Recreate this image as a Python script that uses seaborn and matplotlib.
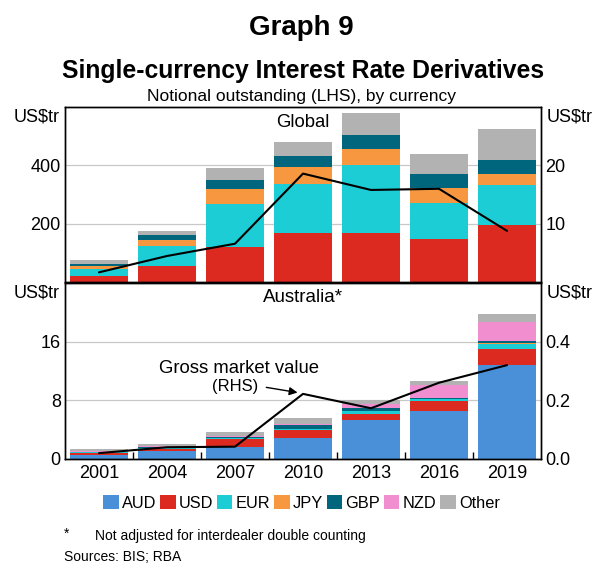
import matplotlib
matplotlib.use("Agg")
import matplotlib.pyplot as plt
import seaborn as sns
import numpy as np
import pandas as pd
from matplotlib.patches import Patch
from matplotlib.ticker import FixedLocator

years = ['2001', '2004', '2007', '2010', '2013', '2016', '2019']
currencies = ['AUD', 'USD', 'EUR', 'JPY', 'GBP', 'NZD', 'Other']
colors = {'AUD': '#4a90d9', 'USD': '#dc2a20', 'EUR': '#1ccdd6', 'JPY': '#f79840',
          'GBP': '#00667e', 'NZD': '#f08ed0', 'Other': '#b2b2b2'}

# Global notional outstanding, US$tr (LHS)
glob_aud = [0, 0, 0, 0, 0, 0, 0]
glob_usd = [23, 57, 121, 167, 167, 148, 197]
glob_eur = [23, 68, 147, 171, 234, 125, 135]
glob_jpy = [11, 21, 50, 55, 56, 51, 39]
glob_gbp = [6, 15, 31, 39, 48, 46, 47]
glob_nzd = [0, 0, 0, 0, 0, 0, 0]
glob_other = [13, 16, 42, 48, 75, 70, 108]
glob_gmv = [1.7, 4.5, 6.6, 18.6, 15.8, 16.0, 8.8]  # RHS

# Australia notional outstanding, US$tr (LHS)
aus_aud = [0.55, 1.1, 1.6, 2.8, 5.3, 6.55, 12.8]
aus_usd = [0.3, 0.3, 1.1, 1.1, 0.9, 1.4, 2.25]
aus_eur = [0.05, 0.1, 0.1, 0.2, 0.3, 0.2, 0.7]
aus_jpy = [0.05, 0.05, 0.05, 0.05, 0.1, 0.05, 0.1]
aus_gbp = [0.05, 0.1, 0.15, 0.45, 0.3, 0.15, 0.25]
aus_nzd = [0.05, 0.1, 0.1, 0.15, 0.6, 1.7, 2.6]
aus_other = [0.35, 0.25, 0.6, 0.85, 0.5, 0.65, 1.1]
aus_gmv = [0.02, 0.04, 0.042, 0.222, 0.173, 0.26, 0.32]  # RHS

glob_df = pd.DataFrame({'AUD': glob_aud, 'USD': glob_usd, 'EUR': glob_eur, 'JPY': glob_jpy,
                        'GBP': glob_gbp, 'NZD': glob_nzd, 'Other': glob_other}, index=years)
aus_df = pd.DataFrame({'AUD': aus_aud, 'USD': aus_usd, 'EUR': aus_eur, 'JPY': aus_jpy,
                       'GBP': aus_gbp, 'NZD': aus_nzd, 'Other': aus_other}, index=years)

sns.set_theme(style='white')
plt.rcParams['font.family'] = ['Liberation Sans', 'DejaVu Sans']
plt.rcParams['text.color'] = 'black'
plt.rcParams['xtick.color'] = 'black'
plt.rcParams['ytick.color'] = 'black'
plt.rcParams['axes.labelcolor'] = 'black'

fig = plt.figure(figsize=(5.97, 5.64), dpi=100)
ax_top = fig.add_axes([0.1089, 0.4995, 0.7973, 0.3108])
ax_bot = fig.add_axes([0.1089, 0.1862, 0.7973, 0.3120])

FS = 13


def stacked(ax, df):
    cum = df[currencies].cumsum(axis=1)
    # draw tallest first so each lower layer overlays it
    for cur in currencies[::-1]:
        if df[cur].sum() == 0:
            continue
        sns.barplot(x=years, y=cum[cur].values, color=colors[cur], saturation=1,
                    width=0.85, linewidth=0, ax=ax, zorder=2)


def style(ax, ylim, yticks, ylabels):
    ax.set_xlim(-0.5, 6.5)
    ax.set_ylim(*ylim)
    ax.set_yticks(yticks)
    ax.set_yticklabels(ylabels, fontsize=FS)
    ax.yaxis.grid(True, color='#c8c8c8', lw=0.9, zorder=0)
    ax.set_axisbelow(True)
    ax.tick_params(axis='y', length=0, pad=3)
    ax.set_xlabel('')
    ax.set_ylabel('')
    for sp in ax.spines.values():
        sp.set_color('black')
        sp.set_linewidth(1.0)
        sp.set_visible(True)


stacked(ax_top, glob_df)
style(ax_top, (0, 600), [200, 400], ['200', '400'])
ax_top.set_xticks([])

stacked(ax_bot, aus_df)
style(ax_bot, (0, 24), [0, 8, 16], ['0', '8', '16'])
ax_bot.set_xticks(range(7))
ax_bot.set_xticklabels(years, fontsize=FS)
ax_bot.tick_params(axis='x', which='major', length=0, pad=4)
ax_bot.xaxis.set_minor_locator(FixedLocator(np.arange(0.5, 6, 1)))
ax_bot.tick_params(axis='x', which='minor', direction='in', length=5, width=1, color='black', bottom=True)

# RHS lines
tw_top = ax_top.twinx()
sns.lineplot(x=np.arange(7), y=glob_gmv, color='black', lw=1.5, ax=tw_top, zorder=5)
tw_top.set_ylim(0, 30)
tw_top.set_yticks([10, 20])
tw_top.set_yticklabels(['10', '20'], fontsize=FS)
tw_top.tick_params(axis='y', length=0, pad=3)
tw_top.grid(False)

tw_bot = ax_bot.twinx()
sns.lineplot(x=np.arange(7), y=aus_gmv, color='black', lw=1.5, ax=tw_bot, zorder=5)
tw_bot.set_ylim(0, 0.6)
tw_bot.set_yticks([0, 0.2, 0.4])
tw_bot.set_yticklabels(['0.0', '0.2', '0.4'], fontsize=FS)
tw_bot.tick_params(axis='y', length=0, pad=3)
tw_bot.grid(False)
for tw in (tw_top, tw_bot):
    tw.set_xlim(-0.5, 6.5)
    tw.set_ylabel('')
    for sp in tw.spines.values():
        sp.set_color('black')
        sp.set_linewidth(1.0)

# units labels
for ax, yfrac in ((ax_top, 0.945), (ax_bot, 0.945)):
    ax.text(-0.012, yfrac, 'US$tr', transform=ax.transAxes, ha='right', va='center', fontsize=FS)
    ax.text(1.012, yfrac, 'US$tr', transform=ax.transAxes, ha='left', va='center', fontsize=FS)

ax_top.text(0.5, 0.909, 'Global', transform=ax_top.transAxes, ha='center', va='center', fontsize=13.3)
ax_bot.text(0.5, 0.92, 'Australia*', transform=ax_bot.transAxes, ha='center', va='center', fontsize=13.5)

# annotation
ax_bot.text(2.06, 12.29, 'Gross market value', ha='center', va='center', fontsize=13.3, zorder=6)
ax_bot.text(2.0, 9.83, '(RHS)', ha='center', va='center', fontsize=12, zorder=6)
ax_bot.annotate('', xy=(2.96, 9.0), xytext=(2.42, 9.83),
                arrowprops=dict(arrowstyle='-|>', color='black', lw=1.0, mutation_scale=12), zorder=6)

# titles
fig.text(0.505, 1 - 28 / 564, 'Graph 9', ha='center', va='center', fontsize=20, fontweight='bold')
fig.text(0.507, 1 - 71 / 564, 'Single-currency Interest Rate Derivatives', ha='center', va='center',
         fontsize=17.8, fontweight='bold')
fig.text(0.505, 1 - 96 / 564, 'Notional outstanding (LHS), by currency', ha='center', va='center', fontsize=12.5)

# legend
handles = [Patch(facecolor=colors[c], edgecolor='none', label=c) for c in currencies]
fig.legend(handles=handles, loc='center', bbox_to_anchor=(0.505, 1 - 503 / 564), ncol=7, frameon=False,
           fontsize=11.8, handlelength=0.95, handleheight=0.95, handletextpad=0.2, columnspacing=0.22)

# footnotes
fig.text(64 / 597, 1 - 534 / 564, '*', ha='left', va='center', fontsize=10)
fig.text(95 / 597, 1 - 536 / 564, 'Not adjusted for interdealer double counting', ha='left', va='center', fontsize=10)
fig.text(64 / 597, 1 - 557 / 564, 'Sources: BIS; RBA', ha='left', va='center', fontsize=10)

fig.savefig('out.png', dpi=100)
